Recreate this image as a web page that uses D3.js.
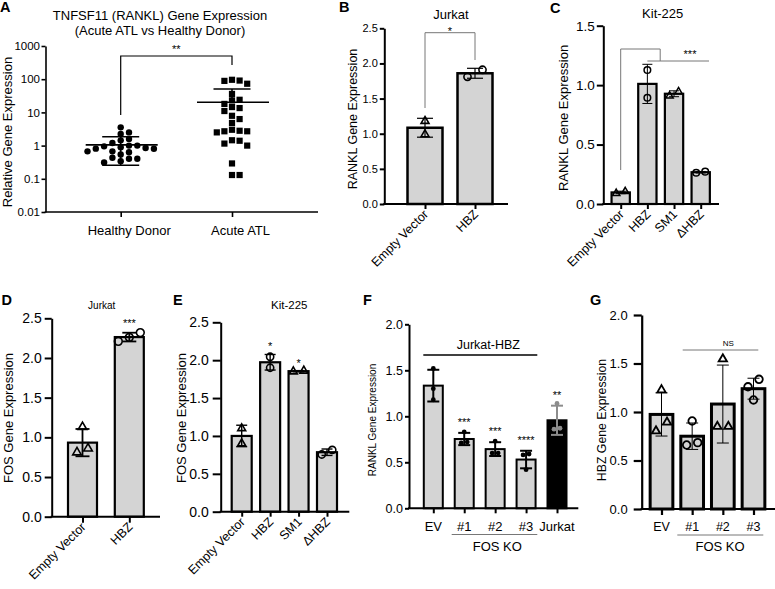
<!DOCTYPE html>
<html><head><meta charset="utf-8">
<script src="https://cdn.jsdelivr.net/npm/d3@7"></script>
<style>
body{margin:0;background:#fff;}
svg{display:block;}
</style></head><body>
<svg id="chart" width="775" height="589"></svg>
<script>
// ================= DATA =================
// Panel A (log scale scatter)
const aCategories = ["Healthy Donor", "Acute ATL"];
const aHealthyDonor = [3.55, 2.5, 2.24, 1.59, 1.44, 1.2, 1.0, 1.0, 0.95, 0.89, 0.85, 0.81, 0.8, 0.67, 0.67, 0.63, 0.54, 0.43, 0.4, 0.4, 0.34, 0.31];
const aAcuteATL = [96, 91, 89, 73, 36, 24, 23, 18, 14.5, 13.5, 11, 7.9, 6.3, 4.8, 3.0, 2.8, 2.7, 2.7, 2.5, 1.45, 1.4, 1.15, 1.0, 0.29, 0.13, 0.13];
const aTickValues = [0.01, 0.1, 1, 10, 100, 1000];
const aTickLabels = ["0.01", "0.1", "1", "10", "100", "1000"];

// Panel B
const bCategories = ["Empty Vector", "HBZ"];
const bReplicates = [[1.18, 0.99], [1.91, 1.81]];
const bShapes = ["triangle", "circle"];
const bTicks = [0, 0.5, 1, 1.5, 2, 2.5];

// Panel C
const cCategories = ["Empty Vector", "HBZ", "SM1", "ΔHBZ"];
const cReplicates = [[0.105, 0.09], [1.127, 0.894], [0.945, 0.91], [0.272, 0.263]];
const cShapes = ["triangle", "circle", "triangle", "circle"];
const cTicks = [0, 0.5, 1, 1.5];

// Panel D
const dCategories = ["Empty Vector", "HBZ"];
const dReplicates = [[1.13, 0.81, 0.86], [2.21, 2.32, 2.26]];
const dShapes = ["triangle", "circle"];
const dStars = ["", "***"];
const dTicks = [0, 0.5, 1, 1.5, 2, 2.5];

// Panel E
const eCategories = ["Empty Vector", "HBZ", "SM1", "ΔHBZ"];
const eReplicates = [[1.10, 0.90], [2.045, 1.90], [1.86, 1.85], [0.815, 0.755]];
const eShapes = ["triangle", "circle", "triangle", "circle"];
const eStars = ["", "*", "*", ""];
const eTicks = [0, 0.5, 1, 1.5, 2, 2.5];

// Panel F
const fCategories = ["EV", "#1", "#2", "#3", "Jurkat"];
const fReplicates = [[1.52, 1.30, 1.18], [0.83, 0.72, 0.71], [0.73, 0.60, 0.60], [0.59, 0.58, 0.42], [1.14, 0.86, 0.87]];
const fStars = ["", "***", "***", "****", "**"];
const fTicks = [0, 0.5, 1, 1.5, 2];

// Panel G
const gCategories = ["EV", "#1", "#2", "#3"];
const gReplicates = [[1.227, 0.894, 0.804], [0.907, 0.684, 0.66], [1.546, 0.85, 0.85], [1.337, 1.26, 1.124]];
const gShapes = ["triangle", "circle", "triangle", "circle"];
const gTicks = [0, 0.5, 1, 1.5, 2];

// ================= DRAWING =================
const FONT = "'Liberation Sans', Arial, Helvetica, sans-serif";
const BAR_FILL = "#d4d4d4";
const svg = d3.select("#chart").attr("font-family", FONT);

function txt(g, x, y, t, size, o = {}) {
  return g.append("text").attr("x", x).attr("y", y).text(t)
    .attr("font-size", size).attr("fill", o.fill || "#000")
    .attr("text-anchor", o.anchor || "start")
    .attr("font-weight", o.bold ? "bold" : null);
}
function line(g, x1, y1, x2, y2, color, w) {
  return g.append("line").attr("x1", x1).attr("y1", y1).attr("x2", x2).attr("y2", y2)
    .attr("stroke", color).attr("stroke-width", w);
}
function panelLetter(t, x, y) { txt(svg, x, y, t, 14.5, { bold: true }); }
function yLabel(g, t, x, y, size) {
  g.append("text").attr("transform", `translate(${x},${y}) rotate(-90)`)
    .attr("text-anchor", "middle").attr("font-size", size).text(t);
}

// ---------- Panel A ----------
(function () {
  const g = svg.append("g");
  const axisX = 45.5, y0 = 212;
  const y = d3.scaleLog().domain([0.01, 1000]).range([212, 46]);
  const x = d3.scalePoint().domain(aCategories).range([120.7, 232]);

  const yg = g.append("g").attr("transform", `translate(${axisX},0)`)
    .call(d3.axisLeft(y).tickValues(aTickValues).tickFormat((d, i) => aTickLabels[i])
      .tickSize(4).tickPadding(1.5).tickSizeOuter(0));
  yg.attr("font-size", 11.5).attr("font-family", FONT);
  yg.selectAll("path,line").attr("stroke", "#000").attr("stroke-width", 1.6);
  yg.selectAll("text").attr("fill", "#000");

  const xg = g.append("g").attr("transform", `translate(0,${y0})`)
    .call(d3.axisBottom(x).tickSize(5).tickPadding(8.5));
  xg.select(".domain").remove();
  xg.attr("font-size", 13).attr("font-family", FONT);
  xg.selectAll("line").attr("stroke", "#000").attr("stroke-width", 1.6);
  xg.selectAll("text").attr("fill", "#000").attr("dx", 8);
  line(g, axisX - 0.8, y0, 318, y0, "#000", 1.6);

  txt(g, 160, 19.5, "TNFSF11 (RANKL) Gene Expression", 13, { anchor: "middle" });
  txt(g, 160, 35, "(Acute ATL vs Healthy Donor)", 13, { anchor: "middle" });
  yLabel(g, "Relative Gene Expression", 12, 132, 13);

  function swarm(values, cx, step, size) {
    const pts = values.map(v => ({ v, py: y(v) })).sort((a, b) => a.py - b.py);
    const placed = [];
    pts.forEach(p => {
      for (let k = 0; k < 60; k++) {
        const off = (k === 0 ? 0 : (k % 2 ? 1 : -1) * Math.ceil(k / 2)) * step;
        if (placed.every(q => Math.abs(q.py - p.py) >= size || Math.abs(q.dx - off) >= step - 0.01)) { p.dx = off; break; }
      }
      placed.push(p);
    });
    return pts.map(p => ({ ...p, px: cx + p.dx }));
  }
  const hd = swarm(aHealthyDonor, x(aCategories[0]), 8.3, 6.3);
  g.selectAll(".hd").data(hd).join("circle").attr("cx", d => d.px).attr("cy", d => d.py).attr("r", 3.2).attr("fill", "#000");
  const atl = swarm(aAcuteATL, x(aCategories[1]), 7.6, 6.3);
  g.selectAll(".atl").data(atl).join("rect").attr("x", d => d.px - 3.1).attr("y", d => d.py - 3.1)
    .attr("width", 6.2).attr("height", 6.2).attr("fill", "#000");

  [aHealthyDonor, aAcuteATL].forEach((vals, i) => {
    const cx = x(aCategories[i]);
    const m = d3.mean(vals), sd = d3.deviation(vals);
    const top = y(m + sd), mid = y(m);
    const bot = (m - sd) > 0 ? y(m - sd) : mid;
    line(g, cx - 35, mid, cx + 37, mid, "#000", 1.6);
    line(g, cx, top, cx, bot, "#000", 1.6);
    line(g, cx - 18.5, top, cx + 18.5, top, "#000", 1.6);
    if ((m - sd) > 0) line(g, cx - 18.5, bot, cx + 18.5, bot, "#000", 1.6);
  });

  // significance
  const bx1 = x(aCategories[0]), bx2 = x(aCategories[1]);
  g.append("path").attr("d", `M${bx1},115V56H${bx2}V65`).attr("fill", "none").attr("stroke", "#000").attr("stroke-width", 1.2);
  txt(g, (bx1 + bx2) / 2, 53, "**", 11, { anchor: "middle" });
})();
panelLetter("A", 0, 12);

// ---------- generic bar panel ----------
function symbolPath(shape, r) {
  if (shape === "triangle") return d3.symbol().type(d3.symbolTriangle).size(r * r * 2.1)();
  return d3.symbol().type(d3.symbolCircle).size(Math.PI * r * r)();
}
function barPanel(o) {
  const g = svg.append("g");
  const x = d3.scalePoint().domain(o.categories).range(o.xRange);
  const y = d3.scaleLinear().domain(o.yDomain).range([o.y0, o.y1]);

  const yg = g.append("g").attr("transform", `translate(${o.axisX},0)`)
    .call(d3.axisLeft(y).tickValues(o.ticks).tickFormat(d3.format(".1f"))
      .tickSize(o.tickLen).tickPadding(o.tickPad).tickSizeOuter(0));
  yg.attr("font-size", o.tickFont).attr("font-family", FONT);
  yg.selectAll("path,line").attr("stroke", "#000").attr("stroke-width", o.axisSW);
  yg.selectAll("text").attr("fill", "#000");

  const stats = o.reps.map(r => ({ m: d3.mean(r), sd: d3.deviation(r) }));

  // bars
  g.selectAll(".bar").data(o.categories).join("rect")
    .attr("x", d => x(d) - o.barW / 2)
    .attr("y", (d, i) => y(stats[i].m))
    .attr("width", o.barW)
    .attr("height", (d, i) => o.y0 - y(stats[i].m))
    .attr("fill", (d, i) => (o.barFills ? o.barFills[i] : BAR_FILL))
    .attr("stroke", "#000").attr("stroke-width", o.barSW);

  // x axis + ticks
  const xg = g.append("g").attr("transform", `translate(0,${o.y0})`)
    .call(d3.axisBottom(x).tickSize(o.xTickLen).tickFormat(""));
  xg.select(".domain").remove();
  xg.selectAll("line").attr("stroke", "#000").attr("stroke-width", o.axisSW);
  line(g, o.axisX - o.axisSW / 2, o.y0, o.xEnd, o.y0, "#000", o.axisSW);

  // x labels
  o.categories.forEach(c => {
    if (o.rotate) {
      g.append("text").attr("transform", `translate(${x(c) + o.rotDx},${o.y0 + o.rotDy}) rotate(-45)`)
        .attr("text-anchor", "end").attr("font-size", o.labelFont).text(c);
    } else {
      txt(g, x(c), o.labelY, c, o.labelFont, { anchor: "middle" });
    }
  });

  // error bars + points
  o.reps.forEach((r, i) => {
    const cx = x(o.categories[i]);
    const s = stats[i];
    const col = o.errColors ? o.errColors[i] : "#000";
    const t = y(s.m + s.sd), b = y(s.m - s.sd);
    const pts = r.map(v => ({ v, py: y(v) })).sort((a, b2) => b2.py - a.py);
    const clusters = []; let cur = [];
    pts.forEach((p, k) => { if (k > 0 && Math.abs(p.py - pts[k - 1].py) >= o.thr) { clusters.push(cur); cur = []; } cur.push(p); });
    clusters.push(cur);
    clusters.forEach(cl => cl.forEach((p, k) => { p.dx = (k - (cl.length - 1) / 2) * o.step; }));
    line(g, cx, t, cx, b, col, o.errSW);
    line(g, cx - o.capW / 2, t, cx + o.capW / 2, t, col, o.errSW);
    line(g, cx - o.capW / 2, b, cx + o.capW / 2, b, col, o.errSW);
    const shape = o.shapes ? o.shapes[i] : "dot";
    g.selectAll(null).data(pts).join("path")
      .attr("transform", d => `translate(${cx + d.dx},${d.py})`)
      .attr("d", symbolPath(shape === "dot" ? "circle" : shape, o.markerR))
      .attr("fill", shape === "dot" ? col : "none")
      .attr("stroke", shape === "dot" ? "none" : col)
      .attr("stroke-width", o.markerSW);
    if (o.stars && o.stars[i]) {
      txt(g, cx, t - o.starGap, o.stars[i], o.starFont, { anchor: "middle" });
    }
  });

  if (o.title) txt(g, o.titleX, o.titleY, o.title, o.titleFont, { anchor: "middle" });
  yLabel(g, o.yLabel, o.yLabelX, o.yLabelY, o.yLabelFont);
  return { g, x, y };
}

// ---------- Panel B ----------
(function () {
  const p = barPanel({
    categories: bCategories, reps: bReplicates, shapes: bShapes, ticks: bTicks,
    xRange: [425, 475], axisX: 384.3, xEnd: 508, y0: 204, y1: 28.3, yDomain: [0, 2.5],
    tickLen: 4.5, tickPad: 2, tickFont: 11, axisSW: 2, xTickLen: 5,
    barW: 35, barSW: 2.5, errSW: 1.2, capW: 16, markerR: 3.6, markerSW: 1.6, step: 15, thr: 10,
    rotate: true, rotDx: 4, rotDy: 11, labelFont: 12.5,
    title: "Jurkat", titleX: 451, titleY: 19, titleFont: 13,
    yLabel: "RANKL Gene Expression", yLabelX: 357, yLabelY: 119, yLabelFont: 12.5
  });
  const x1 = p.x(bCategories[0]), x2 = p.x(bCategories[1]);
  p.g.append("path").attr("d", `M${x1},108V32.7H${x2}V60`).attr("fill", "none").attr("stroke", "#777").attr("stroke-width", 1);
  txt(p.g, (x1 + x2) / 2, 35, "*", 11, { anchor: "middle" });
})();
panelLetter("B", 339, 12);

// ---------- Panel C ----------
(function () {
  const p = barPanel({
    categories: cCategories, reps: cReplicates, shapes: cShapes, ticks: cTicks,
    xRange: [620.7, 700.7], axisX: 603.3, xEnd: 719, y0: 204, y1: 25.7, yDomain: [0, 1.5],
    tickLen: 6.5, tickPad: 2, tickFont: 13.5, axisSW: 2, xTickLen: 5,
    barW: 18.3, barSW: 2.2, errSW: 1, capW: 10, markerR: 3.3, markerSW: 1.5, step: 9, thr: 9,
    rotate: true, rotDx: 4, rotDy: 11, labelFont: 12.5,
    title: "Kit-225", titleX: 662.7, titleY: 18, titleFont: 13,
    yLabel: "RANKL Gene Expression", yLabelX: 568, yLabelY: 118, yLabelFont: 13
  });
  const xs = cCategories.map(c => p.x(c));
  p.g.append("path").attr("d", `M${xs[0]},170V49H${(xs[1] + xs[2]) / 2 - 0.5}V61`).attr("fill", "none").attr("stroke", "#777").attr("stroke-width", 1);
  line(p.g, xs[1], 61, 709, 61, "#777", 1);
  txt(p.g, 690, 58, "***", 11, { anchor: "middle" });
})();
panelLetter("C", 550, 13);

// ---------- Panel D ----------
barPanel({
  categories: dCategories, reps: dReplicates, shapes: dShapes, stars: dStars, ticks: dTicks,
  xRange: [82.5, 129.3], axisX: 51.7, xEnd: 160, y0: 516.7, y1: 318.3, yDomain: [0, 2.5],
  tickLen: 7, tickPad: 3, tickFont: 14, axisSW: 2, xTickLen: 6,
  barW: 29, barSW: 2.2, errSW: 1.8, capW: 14, markerR: 3.9, markerSW: 1.6, step: 11, thr: 9,
  starGap: 6, starFont: 11,
  rotate: true, rotDx: 4, rotDy: 11, labelFont: 12.5,
  title: "Jurkat", titleX: 101.7, titleY: 309, titleFont: 10,
  yLabel: "FOS Gene Expression", yLabelX: 13, yLabelY: 418, yLabelFont: 13
});
panelLetter("D", 1.5, 305);

// ---------- Panel E ----------
barPanel({
  categories: eCategories, reps: eReplicates, shapes: eShapes, stars: eStars, ticks: eTicks,
  xRange: [241.7, 327], axisX: 220.7, xEnd: 349.3, y0: 511.7, y1: 322.3, yDomain: [0, 2.5],
  tickLen: 8, tickPad: 4, tickFont: 14, axisSW: 2, xTickLen: 5,
  barW: 20, barSW: 2.2, errSW: 1.4, capW: 11, markerR: 3.6, markerSW: 1.6, step: 10.5, thr: 9,
  starGap: 4, starFont: 11,
  rotate: true, rotDx: 4, rotDy: 11, labelFont: 12.5,
  title: "Kit-225", titleX: 289.3, titleY: 309, titleFont: 11.5,
  yLabel: "FOS Gene Expression", yLabelX: 186, yLabelY: 418, yLabelFont: 13
});
panelLetter("E", 173, 305);

// ---------- Panel F ----------
(function () {
  const p = barPanel({
    categories: fCategories, reps: fReplicates, stars: fStars, ticks: fTicks,
    barFills: [BAR_FILL, BAR_FILL, BAR_FILL, BAR_FILL, "#000"],
    errColors: ["#000", "#000", "#000", "#000", "#8c8c8c"],
    xRange: [433.3, 557], axisX: 409, xEnd: 578.3, y0: 508.3, y1: 324.3, yDomain: [0, 2],
    tickLen: 4, tickPad: 2, tickFont: 12.5, axisSW: 2, xTickLen: 5,
    barW: 19, barSW: 2, errSW: 2, capW: 12, markerR: 2.4, markerSW: 0, step: 6, thr: 8,
    starGap: 7, starFont: 11,
    rotate: false, labelY: 531, labelFont: 13,
    yLabel: "RANKL Gene Expression", yLabelX: 376, yLabelY: 420, yLabelFont: 10
  });
  line(p.g, 423.3, 355, 537.3, 355, "#000", 1.5);
  txt(p.g, 488.3, 349, "Jurkat-HBZ", 12.5, { anchor: "middle" });
  line(p.g, 451.7, 534.5, 537.3, 534.5, "#777", 1);
  txt(p.g, 497.3, 551, "FOS KO", 13, { anchor: "middle" });
})();
panelLetter("F", 363, 305);

// ---------- Panel G ----------
(function () {
  const p = barPanel({
    categories: gCategories, reps: gReplicates, shapes: gShapes, ticks: gTicks,
    xRange: [661.5, 753.5], axisX: 641.7, xEnd: 775, y0: 509, y1: 315, yDomain: [0, 2],
    tickLen: 8, tickPad: 6, tickFont: 13, axisSW: 2.2, xTickLen: 6,
    barW: 22.7, barSW: 3, errSW: 1, capW: 12, markerR: 3.8, markerSW: 1.8, step: 11, thr: 10,
    rotate: false, labelY: 531, labelFont: 12.5,
    yLabel: "HBZ Gene Expression", yLabelX: 606, yLabelY: 420, yLabelFont: 12.3
  });
  line(p.g, 682.7, 350, 758.3, 350, "#777", 1);
  txt(p.g, 728.3, 346, "NS", 8, { anchor: "middle" });
  line(p.g, 677.3, 535, 763.3, 535, "#777", 1);
  txt(p.g, 720, 551, "FOS KO", 13, { anchor: "middle" });
})();
panelLetter("G", 590, 305);
</script>
</body></html>
